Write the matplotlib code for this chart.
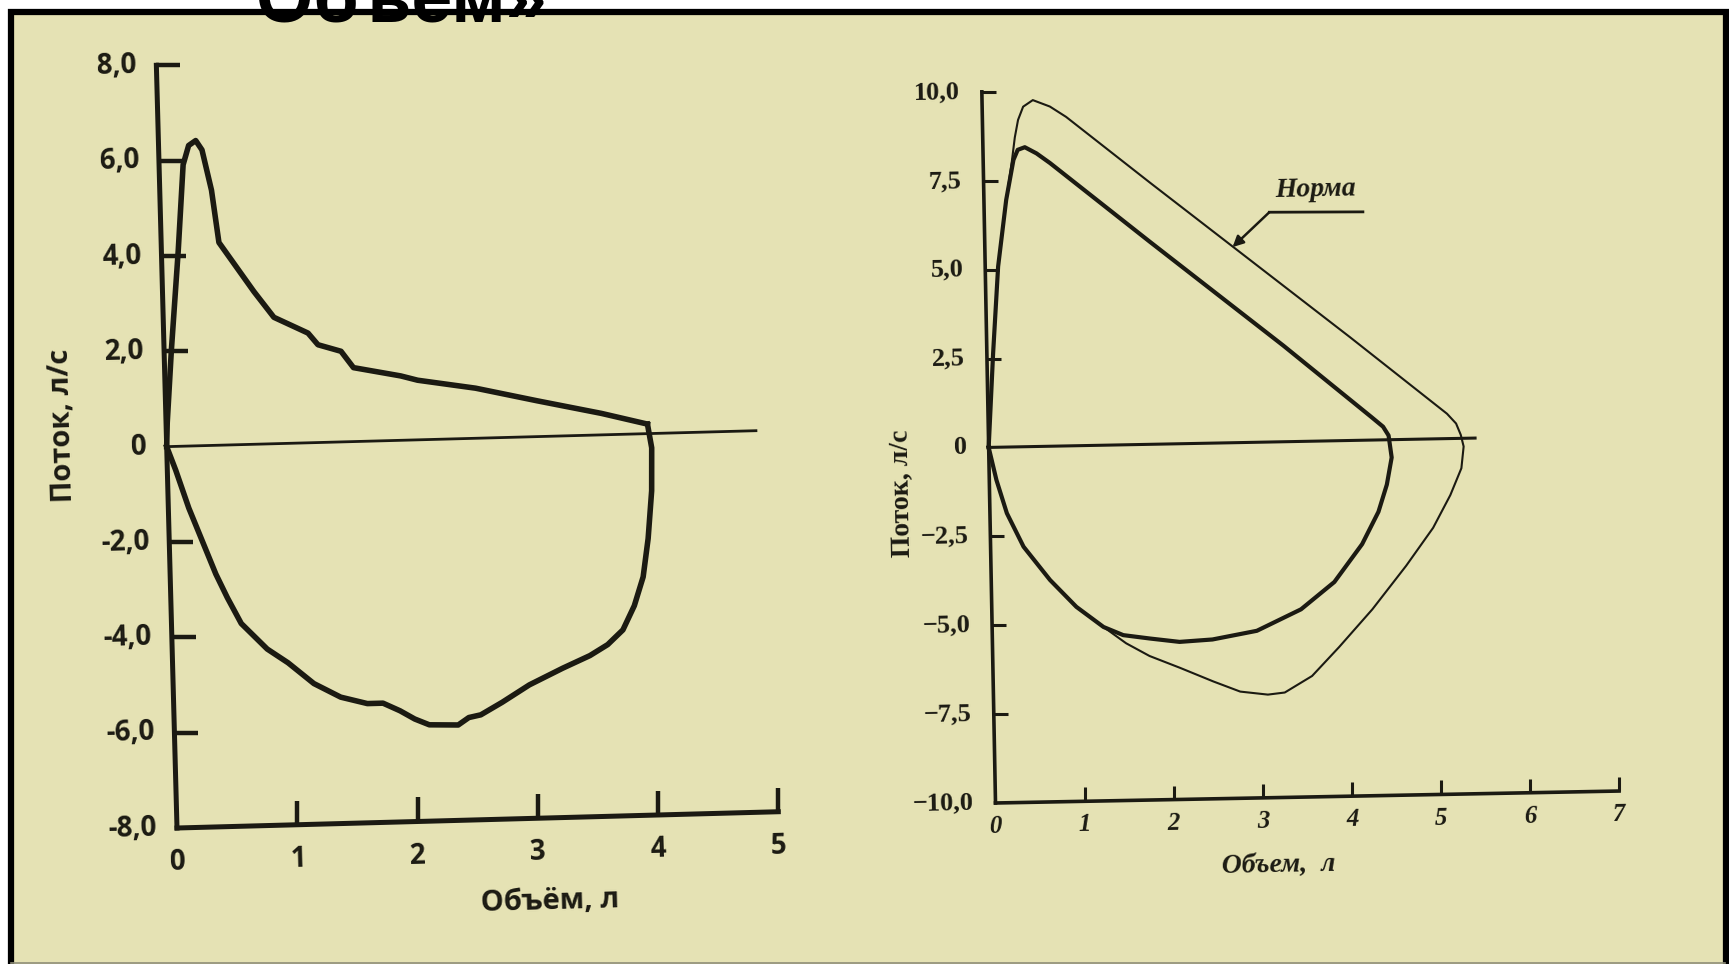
import matplotlib.pyplot as plt
from matplotlib.lines import Line2D
from matplotlib.patches import Rectangle
from matplotlib.transforms import Affine2D, ScaledTranslation

INK = '#1b1a12'
PAPER = '#e5e2b4'

# left loop: volume (L) and flow (L/s), expiration then inspiration
left_exp_vol = [0.0, 0.01, 0.03, 0.06, 0.14, 0.20, 0.25, 0.31, 0.36, 0.43,
                0.48, 0.60, 0.76, 0.92, 1.08, 1.20, 1.28, 1.47, 1.57, 1.96,
                2.10, 2.58, 3.09, 3.62, 4.00]
left_exp_flow = [0.0, 0.5, 1.1, 2.0, 4.1, 5.9, 6.3, 6.4, 6.2, 5.35,
                 4.25, 3.8, 3.2, 2.65, 2.45, 2.3, 2.05, 1.9, 1.55, 1.35,
                 1.25, 1.05, 0.75, 0.45, 0.2]
left_insp_vol = [4.00, 4.03, 4.02, 3.98, 3.93, 3.85, 3.75, 3.62, 3.47, 3.24,
                 2.96, 2.73, 2.55, 2.45, 2.36, 2.12, 2.00, 1.88, 1.74, 1.61,
                 1.39, 1.17, 0.96, 0.79, 0.58, 0.47, 0.38, 0.26, 0.17, 0.07,
                 0.0]
left_insp_flow = [0.2, -0.3, -1.2, -2.2, -3.0, -3.6, -4.1, -4.4, -4.62, -4.87,
                  -5.2, -5.55, -5.8, -5.85, -6.0, -5.98, -5.85, -5.67, -5.5,
                  -5.5, -5.35, -5.05, -4.6, -4.3, -3.75, -3.2, -2.7, -1.9,
                  -1.3, -0.5, 0.0]
left_xticks = [0, 1, 2, 3, 4, 5]
left_yticks = [8, 6, 4, 2, 0, -2, -4, -6, -8]
left_ylabels = ['8,0', '6,0', '4,0', '2,0', '0', '-2,0', '-4,0', '-6,0', '-8,0']

# right panel: patient loop and the normal loop
patient_vol = [0.0, 0.07, 0.145, 0.25, 0.34, 0.39, 0.47, 0.60, 0.75, 1.85,
               3.33, 4.30, 4.43, 4.49, 4.52, 4.46, 4.36, 4.17, 3.85, 3.47,
               2.97, 2.47, 2.10, 1.77, 1.47, 1.25, 0.95, 0.66, 0.37, 0.19,
               0.08, 0.0]
patient_flow = [0.0, 2.64, 5.08, 6.95, 8.07, 8.35, 8.42, 8.24, 7.96, 5.7,
                2.7, 0.65, 0.37, 0.12, -0.5, -1.26, -2.02, -2.92, -3.97,
                -4.72, -5.30, -5.52, -5.57, -5.46, -5.35, -5.11, -4.53, -3.76,
                -2.81, -1.86, -0.92, 0.0]
norm_vol = [0.0, 0.07, 0.145, 0.25, 0.32, 0.36, 0.40, 0.46, 0.57, 0.76,
            0.94, 1.87, 4.08, 5.15, 5.25, 5.30, 5.33, 5.30, 5.17, 4.97,
            4.66, 4.27, 3.89, 3.58, 3.27, 3.08, 2.77, 2.47, 2.10, 1.76,
            1.50, 1.25, 0.95, 0.66, 0.37, 0.19, 0.08, 0.0]
norm_flow = [0.0, 2.64, 5.08, 6.95, 8.0, 8.7, 9.19, 9.56, 9.74, 9.55,
             9.25, 7.35, 2.9, 0.7, 0.42, 0.1, -0.23, -0.84, -1.59, -2.5,
             -3.55, -4.76, -5.8, -6.6, -7.05, -7.1, -7.0, -6.7, -6.3, -5.95,
             -5.58, -5.11, -4.53, -3.76, -2.81, -1.86, -0.92, 0.0]
right_xticks = [0, 1, 2, 3, 4, 5, 6, 7]
right_yticks = [10, 7.5, 5, 2.5, 0, -2.5, -5, -7.5, -10]
right_ylabels = ['10,0', '7,5', '5,0', '2,5', '0', '\u22122,5', '\u22125,0',
                 '\u22127,5', '\u221210,0']

W, H = 1729, 964
fig = plt.figure(figsize=(W / 100, H / 100), dpi=100)
fig.patch.set_facecolor('white')

# scanned sheet: yellow paper with a black frame
fig.add_artist(Rectangle((11 / W, -0.05), (1725.5 - 11) / W,
                         1.05 - 11.5 / H, transform=fig.transFigure,
                         facecolor=PAPER, edgecolor='black', linewidth=4.5,
                         zorder=0))
fig.add_artist(Line2D([11 / W, 1725 / W], [1.2 / H, 1.2 / H],
                      transform=fig.transFigure, color='#8f8e78', lw=1.2))
# heading of the slide, mostly above the top edge
fig.text(256 / W, 1 - 21 / H, 'Объем»', fontsize=53, fontweight='bold',
         family='Liberation Sans', va='baseline', color='black')


def px(v):
    return v * 0.72


def shifted(tr, dx, dy):
    return tr + ScaledTranslation(px(dx) / 72, px(dy) / 72,
                                  fig.dpi_scale_trans)


def tilted_axes(rect, xlim, ylim, angle):
    ax = fig.add_axes(rect)
    ax.set_xlim(xlim)
    ax.set_ylim(ylim)
    ax.set_axis_off()
    cx, cy = ax.transData.transform((xlim[0], ylim[0]))
    tr = ax.transData + Affine2D().rotate_deg_around(cx, cy, angle)
    return ax, tr


def frame(ax, tr, xlim, ylim, lw, xticks, yticks, ticklen, tickw):
    kw = dict(color=INK, transform=tr, clip_on=False)
    ax.plot([xlim[0], xlim[0]], list(ylim), lw=lw,
            solid_capstyle='projecting', **kw)
    ax.plot(list(xlim), [ylim[0], ylim[0]], lw=lw,
            solid_capstyle='projecting', **kw)
    ax.plot([xlim[0]] * len(yticks), yticks, ls='none', marker=1,
            ms=ticklen, mew=tickw, **kw)
    ax.plot(xticks, [ylim[0]] * len(xticks), ls='none', marker=2,
            ms=ticklen, mew=tickw, **kw)


# ---- left panel ----
a1 = 1.55
ax1, tr1 = tilted_axes([177 / W, 136 / H, 601.5 / W, 763 / H],
                       (0, 5), (-8, 8), a1)
frame(ax1, tr1, (0, 5), (-8, 8), 3.6, left_xticks[1:],
      [t for t in left_yticks if t not in (0, -8)], 17, 3.2)
ax1.plot([0, 4.9], [0, 0], color=INK, lw=2.0, transform=tr1, clip_on=False)
ax1.plot(left_exp_vol, left_exp_flow, color=INK, lw=4.0,
         solid_joinstyle='round', transform=tr1, clip_on=False)
ax1.plot(left_insp_vol, left_insp_flow, color=INK, lw=4.0,
         solid_joinstyle='round', transform=tr1, clip_on=False)

sans = dict(family=['Open Sans', 'DejaVu Sans'], fontweight='bold',
            color=INK, rotation_mode='anchor')
for v, s in zip(left_yticks, left_ylabels):
    ax1.text(0, v, s, transform=shifted(tr1, -20, 0), ha='right',
             va='center', fontsize=20, rotation=a1, **sans)
for v in left_xticks:
    ax1.text(v, -8, str(v), transform=shifted(tr1, 0, -20), ha='center',
             va='top', fontsize=20, rotation=a1, **sans)
ax1.text(3.1, -8, 'Объём, л', transform=shifted(tr1, 0, -84),
         ha='center', va='center', fontsize=21, rotation=a1, **sans)
ax1.text(0, 0.45, 'Поток, л/с', transform=shifted(tr1, -104, 0),
         ha='center', va='center', fontsize=21, rotation=90 + a1, **sans)

# ---- right panel ----
a2 = 1.1
ax2, tr2 = tilted_axes([995.5 / W, 161 / H, 623.7 / W, 711.3 / H],
                       (0, 7), (-10, 10), a2)
frame(ax2, tr2, (0, 7), (-10, 10), 2.6, right_xticks[1:],
      [t for t in right_yticks if t not in (0, -10)], 10, 2.2)
ax2.plot([0, 5.46], [0, 0], color=INK, lw=2.2, transform=tr2, clip_on=False)
ax2.plot(norm_vol, norm_flow, color=INK, lw=1.5, solid_joinstyle='round',
         transform=tr2, clip_on=False)
ax2.plot(patient_vol, patient_flow, color=INK, lw=3.0,
         solid_joinstyle='round', transform=tr2, clip_on=False)

serif = dict(family=['Liberation Serif', 'DejaVu Serif'], fontweight='bold',
             color=INK, rotation_mode='anchor')
for v, s in zip(right_yticks, right_ylabels):
    ax2.text(0, v, s, transform=shifted(tr2, -22, 0), ha='right',
             va='center', fontsize=19, rotation=a2, **serif)
for v in right_xticks:
    ax2.text(v, -10, str(v), transform=shifted(tr2, 0, -12), ha='center',
             va='top', fontsize=18, style='italic', rotation=a2, **serif)
ax2.text(3.18, -10, 'Объем,  л', transform=shifted(tr2, 0, -68),
         ha='center', va='center', fontsize=20, style='italic',
         rotation=a2, **serif)
ax2.text(0, -1.3, 'Поток, л/с', transform=shifted(tr2, -88, 0),
         ha='center', va='center', fontsize=20, rotation=90 + a2, **serif)

# label of the normal loop with a leader line
ax2.text(3.72, 7.06, 'Норма', transform=tr2, ha='center', va='center',
         fontsize=20, style='italic', rotation=a2, **serif)
ax2.plot([3.2, 4.25], [6.46, 6.42], color=INK, lw=2.0, transform=tr2,
         clip_on=False)
ax2.annotate('', xy=(2.78, 5.5), xytext=(3.2, 6.46), xycoords=tr2,
             textcoords=tr2,
             arrowprops=dict(arrowstyle='-|>', color=INK, lw=1.8,
                             mutation_scale=16, shrinkA=0, shrinkB=0))

fig.savefig('out.png', dpi=100, facecolor=fig.get_facecolor())
